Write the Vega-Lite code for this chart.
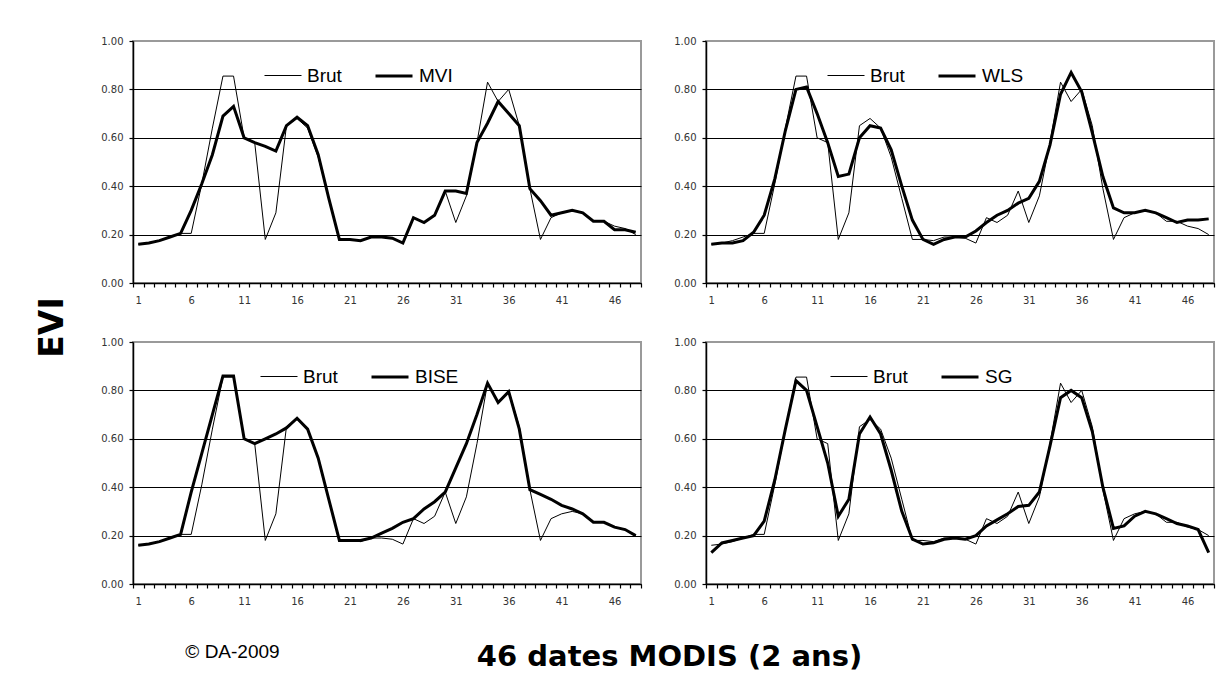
{
  "$schema": "https://vega.github.io/schema/vega-lite/v6.json",
  "background": "white",
  "padding": {"left": 35, "top": 35, "right": 9, "bottom": 10},
  "autosize": {"type": "pad"},
  "data": {"values": [
    {"d": 1, "Brut": 0.16, "MVI": 0.16, "WLS": 0.16, "BISE": 0.16, "SG": 0.13},
    {"d": 2, "Brut": 0.165, "MVI": 0.165, "WLS": 0.165, "BISE": 0.165, "SG": 0.17},
    {"d": 3, "Brut": 0.175, "MVI": 0.175, "WLS": 0.165, "BISE": 0.175, "SG": 0.18},
    {"d": 4, "Brut": 0.19, "MVI": 0.19, "WLS": 0.175, "BISE": 0.19, "SG": 0.19},
    {"d": 5, "Brut": 0.205, "MVI": 0.205, "WLS": 0.21, "BISE": 0.205, "SG": 0.2},
    {"d": 6, "Brut": 0.205, "MVI": 0.3, "WLS": 0.28, "BISE": 0.38, "SG": 0.26},
    {"d": 7, "Brut": 0.41, "MVI": 0.41, "WLS": 0.43, "BISE": 0.54, "SG": 0.43},
    {"d": 8, "Brut": 0.64, "MVI": 0.53, "WLS": 0.63, "BISE": 0.7, "SG": 0.64},
    {"d": 9, "Brut": 0.855, "MVI": 0.69, "WLS": 0.8, "BISE": 0.86, "SG": 0.84},
    {"d": 10, "Brut": 0.855, "MVI": 0.73, "WLS": 0.81, "BISE": 0.86, "SG": 0.8},
    {"d": 11, "Brut": 0.6, "MVI": 0.6, "WLS": 0.7, "BISE": 0.6, "SG": 0.65},
    {"d": 12, "Brut": 0.58, "MVI": 0.58, "WLS": 0.58, "BISE": 0.58, "SG": 0.5},
    {"d": 13, "Brut": 0.18, "MVI": 0.565, "WLS": 0.44, "BISE": 0.6, "SG": 0.28},
    {"d": 14, "Brut": 0.29, "MVI": 0.545, "WLS": 0.45, "BISE": 0.62, "SG": 0.35},
    {"d": 15, "Brut": 0.65, "MVI": 0.65, "WLS": 0.6, "BISE": 0.645, "SG": 0.62},
    {"d": 16, "Brut": 0.68, "MVI": 0.685, "WLS": 0.65, "BISE": 0.685, "SG": 0.69},
    {"d": 17, "Brut": 0.64, "MVI": 0.65, "WLS": 0.64, "BISE": 0.64, "SG": 0.62},
    {"d": 18, "Brut": 0.52, "MVI": 0.53, "WLS": 0.55, "BISE": 0.52, "SG": 0.47},
    {"d": 19, "Brut": 0.35, "MVI": 0.35, "WLS": 0.4, "BISE": 0.35, "SG": 0.3},
    {"d": 20, "Brut": 0.18, "MVI": 0.18, "WLS": 0.26, "BISE": 0.18, "SG": 0.185},
    {"d": 21, "Brut": 0.18, "MVI": 0.18, "WLS": 0.18, "BISE": 0.18, "SG": 0.165},
    {"d": 22, "Brut": 0.175, "MVI": 0.175, "WLS": 0.16, "BISE": 0.18, "SG": 0.17},
    {"d": 23, "Brut": 0.19, "MVI": 0.19, "WLS": 0.18, "BISE": 0.19, "SG": 0.185},
    {"d": 24, "Brut": 0.19, "MVI": 0.19, "WLS": 0.19, "BISE": 0.21, "SG": 0.19},
    {"d": 25, "Brut": 0.185, "MVI": 0.185, "WLS": 0.19, "BISE": 0.23, "SG": 0.185},
    {"d": 26, "Brut": 0.165, "MVI": 0.165, "WLS": 0.215, "BISE": 0.255, "SG": 0.2},
    {"d": 27, "Brut": 0.27, "MVI": 0.27, "WLS": 0.25, "BISE": 0.27, "SG": 0.24},
    {"d": 28, "Brut": 0.25, "MVI": 0.25, "WLS": 0.28, "BISE": 0.31, "SG": 0.265},
    {"d": 29, "Brut": 0.28, "MVI": 0.28, "WLS": 0.3, "BISE": 0.34, "SG": 0.29},
    {"d": 30, "Brut": 0.38, "MVI": 0.38, "WLS": 0.33, "BISE": 0.38, "SG": 0.32},
    {"d": 31, "Brut": 0.25, "MVI": 0.38, "WLS": 0.35, "BISE": 0.48, "SG": 0.325},
    {"d": 32, "Brut": 0.36, "MVI": 0.37, "WLS": 0.42, "BISE": 0.58, "SG": 0.38},
    {"d": 33, "Brut": 0.58, "MVI": 0.58, "WLS": 0.57, "BISE": 0.7, "SG": 0.57},
    {"d": 34, "Brut": 0.83, "MVI": 0.66, "WLS": 0.78, "BISE": 0.83, "SG": 0.77},
    {"d": 35, "Brut": 0.75, "MVI": 0.75, "WLS": 0.87, "BISE": 0.75, "SG": 0.8},
    {"d": 36, "Brut": 0.8, "MVI": 0.7, "WLS": 0.79, "BISE": 0.795, "SG": 0.77},
    {"d": 37, "Brut": 0.65, "MVI": 0.65, "WLS": 0.62, "BISE": 0.64, "SG": 0.63},
    {"d": 38, "Brut": 0.39, "MVI": 0.39, "WLS": 0.44, "BISE": 0.39, "SG": 0.4},
    {"d": 39, "Brut": 0.18, "MVI": 0.34, "WLS": 0.31, "BISE": 0.37, "SG": 0.23},
    {"d": 40, "Brut": 0.27, "MVI": 0.28, "WLS": 0.29, "BISE": 0.35, "SG": 0.24},
    {"d": 41, "Brut": 0.29, "MVI": 0.29, "WLS": 0.29, "BISE": 0.325, "SG": 0.28},
    {"d": 42, "Brut": 0.3, "MVI": 0.3, "WLS": 0.3, "BISE": 0.31, "SG": 0.3},
    {"d": 43, "Brut": 0.29, "MVI": 0.29, "WLS": 0.29, "BISE": 0.29, "SG": 0.29},
    {"d": 44, "Brut": 0.255, "MVI": 0.255, "WLS": 0.27, "BISE": 0.255, "SG": 0.27},
    {"d": 45, "Brut": 0.255, "MVI": 0.255, "WLS": 0.25, "BISE": 0.255, "SG": 0.25},
    {"d": 46, "Brut": 0.235, "MVI": 0.22, "WLS": 0.26, "BISE": 0.235, "SG": 0.24},
    {"d": 47, "Brut": 0.225, "MVI": 0.22, "WLS": 0.26, "BISE": 0.225, "SG": 0.225},
    {"d": 48, "Brut": 0.2, "MVI": 0.21, "WLS": 0.265, "BISE": 0.2, "SG": 0.13}
  ]},
  "columns": 2,
  "spacing": {"row": 59, "column": 65},
  "bounds": "flush",
  "resolve": {
    "scale": {"strokeWidth": "independent", "x": "independent", "y": "independent"},
    "legend": {"strokeWidth": "independent"},
    "axis": {"x": "independent", "y": "independent"}
  },
  "concat": [
    {
      "width": 508, "height": 242,
      "transform": [{"fold": ["Brut", "MVI"], "as": ["serie", "evi"]}],
      "mark": {"type": "line", "color": "black", "strokeJoin": "miter"},
      "encoding": {
        "x": {"field": "d", "type": "ordinal", "bandPosition": 0.5,
              "scale": {"type": "band", "paddingInner": 0, "paddingOuter": 0},
              "axis": {"title": null, "tickBand": "extent", "labelAngle": 0, "labelOverlap": false,
                       "labelExpr": "(+datum.value - 1) % 5 == 0 ? datum.label : ''"}},
        "y": {"field": "evi", "type": "quantitative", "scale": {"domain": [0, 1]},
              "axis": {"title": "EVI", "titleX": -81, "titleY": 286, "titleAngle": -90,
                       "titleAlign": "center", "titleBaseline": "middle",
                       "titleFont": "DejaVu Sans", "titleFontSize": 33, "titleFontWeight": "bold", "titleColor": "black",
                       "values": [0, 0.2, 0.4, 0.6, 0.8, 1], "format": ".2f",
                       "gridColor": {"condition": {"test": "datum.value >= 1", "value": "#9a9a9a"}, "value": "black"}}},
        "strokeWidth": {"field": "serie", "type": "nominal",
                        "scale": {"domain": ["Brut", "MVI"], "range": [1, 3]},
                        "legend": {"legendX": 131, "legendY": 15}}
      }
    },
    {
      "width": 508, "height": 242,
      "transform": [{"fold": ["Brut", "WLS"], "as": ["serie", "evi"]}],
      "mark": {"type": "line", "color": "black", "strokeJoin": "miter"},
      "encoding": {
        "x": {"field": "d", "type": "ordinal", "bandPosition": 0.5,
              "scale": {"type": "band", "paddingInner": 0, "paddingOuter": 0},
              "axis": {"title": null, "tickBand": "extent", "labelAngle": 0, "labelOverlap": false,
                       "labelExpr": "(+datum.value - 1) % 5 == 0 ? datum.label : ''"}},
        "y": {"field": "evi", "type": "quantitative", "scale": {"domain": [0, 1]},
              "axis": {"title": null, "values": [0, 0.2, 0.4, 0.6, 0.8, 1], "format": ".2f",
                       "gridColor": {"condition": {"test": "datum.value >= 1", "value": "#9a9a9a"}, "value": "black"}}},
        "strokeWidth": {"field": "serie", "type": "nominal",
                        "scale": {"domain": ["Brut", "WLS"], "range": [1, 3]},
                        "legend": {"legendX": 121, "legendY": 15}}
      }
    },
    {
      "width": 508, "height": 242,
      "transform": [{"fold": ["Brut", "BISE"], "as": ["serie", "evi"]}],
      "mark": {"type": "line", "color": "black", "strokeJoin": "miter"},
      "encoding": {
        "x": {"field": "d", "type": "ordinal", "bandPosition": 0.5,
              "scale": {"type": "band", "paddingInner": 0, "paddingOuter": 0},
              "axis": {"title": "© DA-2009", "titleX": 99, "titleY": 67, "titleAlign": "center", "titleBaseline": "middle",
                       "titleFont": "Liberation Sans", "titleFontSize": 19, "titleFontWeight": "normal", "titleColor": "black",
                       "tickBand": "extent", "labelAngle": 0, "labelOverlap": false,
                       "labelExpr": "(+datum.value - 1) % 5 == 0 ? datum.label : ''"}},
        "y": {"field": "evi", "type": "quantitative", "scale": {"domain": [0, 1]},
              "axis": {"title": null, "values": [0, 0.2, 0.4, 0.6, 0.8, 1], "format": ".2f",
                       "gridColor": {"condition": {"test": "datum.value >= 1", "value": "#9a9a9a"}, "value": "black"}}},
        "strokeWidth": {"field": "serie", "type": "nominal",
                        "scale": {"domain": ["Brut", "BISE"], "range": [1, 3]},
                        "legend": {"legendX": 127, "legendY": 15}}
      }
    },
    {
      "width": 508, "height": 242,
      "transform": [{"fold": ["Brut", "SG"], "as": ["serie", "evi"]}],
      "mark": {"type": "line", "color": "black", "strokeJoin": "miter"},
      "encoding": {
        "x": {"field": "d", "type": "ordinal", "bandPosition": 0.5,
              "scale": {"type": "band", "paddingInner": 0, "paddingOuter": 0},
              "axis": {"title": "46 dates MODIS (2 ans)", "titleX": -37, "titleY": 72, "titleAlign": "center", "titleBaseline": "middle",
                       "titleFont": "DejaVu Sans", "titleFontSize": 29, "titleFontWeight": "bold", "titleColor": "black",
                       "tickBand": "extent", "labelAngle": 0, "labelOverlap": false,
                       "labelExpr": "(+datum.value - 1) % 5 == 0 ? datum.label : ''"}},
        "y": {"field": "evi", "type": "quantitative", "scale": {"domain": [0, 1]},
              "axis": {"title": null, "values": [0, 0.2, 0.4, 0.6, 0.8, 1], "format": ".2f",
                       "gridColor": {"condition": {"test": "datum.value >= 1", "value": "#9a9a9a"}, "value": "black"}}},
        "strokeWidth": {"field": "serie", "type": "nominal",
                        "scale": {"domain": ["Brut", "SG"], "range": [1, 3]},
                        "legend": {"legendX": 124, "legendY": 15}}
      }
    }
  ],
  "config": {
    "view": {"stroke": "#9a9a9a", "strokeWidth": 2},
    "axis": {
      "domainColor": "black", "domainWidth": 1.5,
      "tickColor": "black", "tickWidth": 1.2, "tickSize": 4,
      "labelFont": "DejaVu Sans", "labelFontSize": 10, "labelColor": "#333333",
      "labelBound": false, "labelFlush": false
    },
    "axisX": {"grid": false, "labelPadding": 8},
    "axisY": {"grid": true, "gridWidth": 1.2, "gridOpacity": 1, "labelPadding": 6},
    "legend": {
      "orient": "none", "direction": "horizontal", "title": null, "padding": 0,
      "symbolType": "stroke", "symbolSize": 1369, "symbolStrokeColor": "black",
      "labelFont": "Liberation Sans", "labelFontSize": 19, "labelColor": "black",
      "labelOffset": 5, "columnPadding": 27
    }
  }
}
